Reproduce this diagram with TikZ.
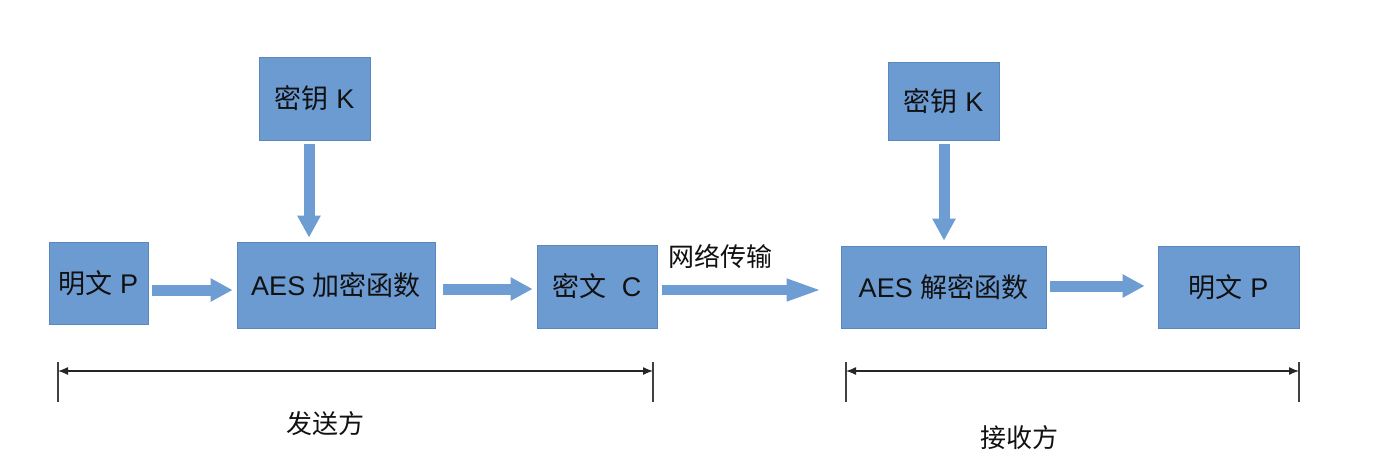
\documentclass[tikz,border=0pt]{standalone}
\usepackage{fontspec}
\setmainfont{Liberation Sans}
\newfontfamily\cjk{Noto Sans CJK SC}
\usetikzlibrary{arrows.meta}
\definecolor{boxfill}{HTML}{6C9BD2}
\definecolor{boxline}{HTML}{5B87BD}
\definecolor{arrfill}{HTML}{6E9DD3}
\definecolor{txt}{HTML}{111111}
\tikzset{
  x=1pt, y=-1pt,
  blk/.style={draw=boxline, line width=0.8pt, fill=boxfill, inner sep=0pt,
    text=txt, font=\fontsize{27}{31}\selectfont},
  flow/.style={draw=arrfill, line width=11pt,
    -{Triangle[width=22pt,length=22pt]}},
  netflow/.style={draw=arrfill, line width=10pt,
    -{Triangle[width=20pt,length=36pt]}},
  dim/.style={draw=black!85, line width=1.3pt, {Latex[length=10pt,width=8pt]}-{Latex[length=10pt,width=8pt]}},
  tick/.style={draw=black!75, line width=1.3pt},
  lbl/.style={text=txt, font=\fontsize{26}{30}\selectfont\cjk, inner sep=0pt}
}
\begin{document}
\begin{tikzpicture}
\useasboundingbox[fill=white] (0,0) rectangle (1378,466);
% boxes
\node[blk, minimum width=99pt, minimum height=82pt] (pL) at (98.5,283) {{\cjk 明文} P};
\node[blk, minimum width=111pt, minimum height=83pt] (kL) at (314.5,98.5) {{\cjk 密钥} K};
\node[blk, minimum width=198pt, minimum height=86pt] (enc) at (336,285) {AES {\cjk 加密函数}};
\node[blk, minimum width=120pt, minimum height=83pt] (ct) at (597,286.5) {{\cjk 密文}\ \ C};
\node[blk, minimum width=111pt, minimum height=78pt] (kR) at (943.5,101) {{\cjk 密钥} K};
\node[blk, minimum width=205pt, minimum height=82pt] (dec) at (943.5,287) {AES {\cjk 解密函数}};
\node[blk, minimum width=141pt, minimum height=82pt] (pR) at (1228.5,287) {{\cjk 明文} P};
% arrows
\draw[flow, shorten <=4pt, shorten >=4pt] ([yshift=-7pt]pL.east) -- ([yshift=-7pt]pL.east -| enc.west);
\draw[flow, shorten <=4pt, shorten >=4pt] (kL.south -| 309,0) -- (enc.north -| 309,0);
\draw[flow, shorten <=8pt, shorten >=4pt] ([yshift=-4pt]enc.east) -- ([yshift=-4pt]enc.east -| ct.west);
\draw[netflow, shorten <=5pt, shorten >=18pt] ([yshift=-3.5pt]ct.east) -- ([yshift=-3.5pt]ct.east -| dec.west);
\draw[flow, shorten <=4pt, shorten >=5pt] (kR.south -| 944,0) -- (dec.north -| 944,0);
\draw[flow, shorten <=4pt, shorten >=13pt] ([yshift=1pt]dec.east) -- ([yshift=1pt]dec.east -| pR.west);
\node[lbl] (net) at (720,256) {网络传输};
% dimension lines
\coordinate (sA) at (58,371);
\coordinate (sB) at (653,371);
\coordinate (rA) at (846,371);
\coordinate (rB) at (1299,371);
\draw[tick] (58,362) -- (58,402);
\draw[tick] (653,362) -- (653,402);
\draw[tick] (846,362) -- (846,402);
\draw[tick] (1299,362) -- (1299,402);
\draw[dim] (sA) -- (sB);
\draw[dim] (rA) -- (rB);
\node[lbl] (send) at (325,424) {发送方};
\node[lbl] (recv) at (1019,438) {接收方};
\end{tikzpicture}
\end{document}
